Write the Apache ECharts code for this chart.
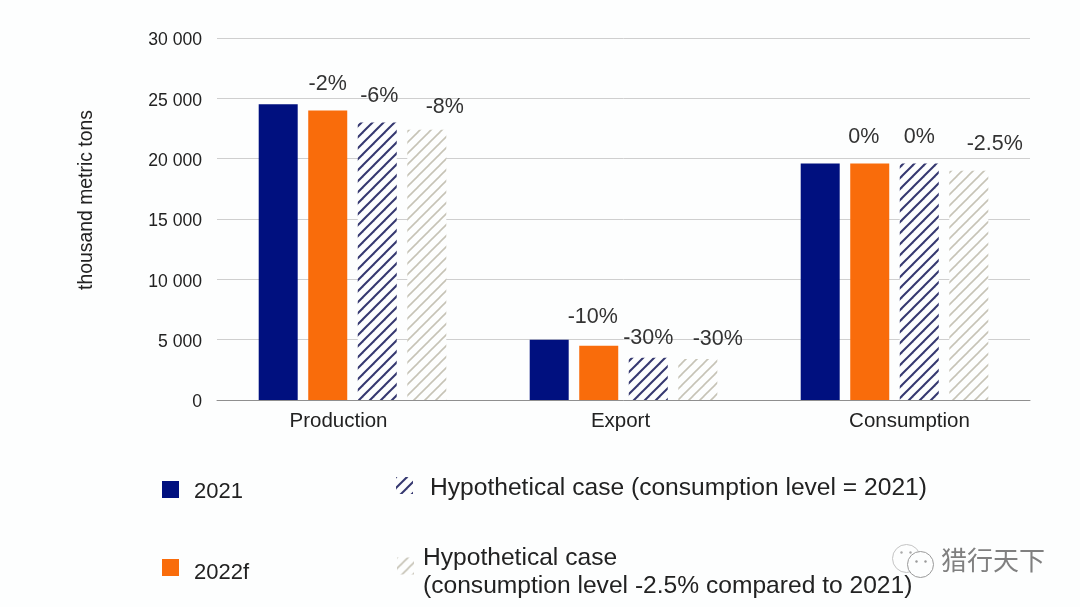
<!DOCTYPE html>
<html>
<head>
<meta charset="utf-8">
<title>Production, export and consumption</title>
<style>
	html, body { margin: 0; padding: 0; background: #fdfefe; }
	#chart { width: 1080px; height: 607px; }
</style>
<script src="https://cdn.jsdelivr.net/npm/echarts@6/dist/echarts.min.js"></script>
</head>
<body>
<div id="chart"></div>
<script>
const categories = ["Production", "Export", "Consumption"];
const seriesNames = [
	"2021",
	"2022f",
	"Hypothetical case (consumption level = 2021)",
	"Hypothetical case\n(consumption level -2.5% compared to 2021)",
];
const values2021 = [24500, 5000, 19600];
const values2022 = [24000, 4500, 19600];
const valuesHypo = [23000, 3500, 19600];
const valuesHypoLow = [22400, 3400, 19000];
const labels2022 = ["-2%", "-10%", "0%"];
const labelsHypo = ["-6%", "-30%", "0%"];
const labelsHypoLow = ["-8%", "-30%", "-2.5%"];

const FONT = '"Liberation Sans", Arial, sans-serif';
const TEXT = "#222";

// diagonal hatch tile, white behind so the grid lines don't show through
function hatch(color, width) {
	const size = 11;
	const c = document.createElement("canvas");
	c.width = size;
	c.height = size;
	const ctx = c.getContext("2d");
	ctx.fillStyle = "#fdfefe";
	ctx.fillRect(0, 0, size, size);
	ctx.strokeStyle = color;
	ctx.lineWidth = width;
	for (let i = -size; i <= size; i += size) {
		ctx.beginPath();
		ctx.moveTo(i - 1, size + 1);
		ctx.lineTo(i + size + 1, -1);
		ctx.stroke();
	}
	return { image: c, repeat: "repeat" };
}

const navyHatch = hatch("#34376f", 2);
const tanHatch = hatch("#c6c3b6", 1.6);

function barLabel(text, offset) {
	return {
		show: true,
		position: "top",
		formatter: text,
		offset: offset,
		fontFamily: FONT,
		fontSize: 21.5,
		color: "#333",
	};
}

function makeData(values, labels, offsets) {
	return values.map((value, i) => ({
		value: value,
		label: barLabel(labels[i], offsets[i]),
	}));
}

// rich padding moves the text relative to its icon, the picture has them uneven
function legendAt(name, left, top, fontSize, gap, drop) {
	const lineStyle = {
		fontFamily: FONT,
		fontSize: fontSize,
		color: TEXT,
		lineHeight: 28,
	};
	return {
		data: [{ name: name, icon: "rect" }],
		left: left,
		top: top,
		padding: 0,
		itemWidth: 17,
		itemHeight: 17,
		itemGap: 0,
		selectedMode: false,
		formatter: (n) => n.split("\n").map((line) => `{t|${line}}`).join("\n"),
		textStyle: {
			padding: [0, 0, 0, gap],
			rich: {
				t: { ...lineStyle, padding: [drop, 0, 0, 0] },
			},
		},
	};
}

const chart = echarts.init(document.getElementById("chart"));
chart.setOption({
	animation: false,
	backgroundColor: "#fdfefe",
	grid: { left: 217, right: 50, top: 38, bottom: 207 },
	legend: [
		legendAt(seriesNames[0], 162, 476, 22, 10, 5),
		legendAt(seriesNames[1], 162, 551, 22, 10, 11),
		legendAt(seriesNames[2], 396, 470, 24.6, 12, 6),
		legendAt(seriesNames[3], 397, 533, 24.6, 4, 13),
	],
	xAxis: {
		type: "category",
		// labels in the picture sit off the band centres
		data: [
			{ value: categories[0], textStyle: { padding: [0, 28, 0, 0] } },
			{ value: categories[1], textStyle: { padding: [0, 6, 0, 0] } },
			{ value: categories[2], textStyle: { padding: [0, 0, 0, 30] } },
		],
		axisTick: { show: false },
		axisLine: { lineStyle: { color: "#8f8f8f", width: 1 } },
		axisLabel: { fontFamily: FONT, fontSize: 20.5, color: TEXT, margin: 11 },
	},
	yAxis: {
		type: "value",
		min: 0,
		max: 30000,
		interval: 5000,
		name: "thousand metric tons",
		nameLocation: "middle",
		nameGap: 121,
		nameTextStyle: {
			fontFamily: FONT,
			fontSize: 19.4,
			color: TEXT,
			padding: [0, 0, 0, 38],
		},
		axisLine: { show: false },
		axisTick: { show: false },
		splitLine: { lineStyle: { color: "#cfcfcf", width: 1 } },
		axisLabel: {
			margin: 15,
			formatter: (v) => `{t|${String(v).replace(/(\d)(?=\d{3}$)/, "$1 ")}}`,
			rich: {
				t: {
					fontFamily: FONT,
					fontSize: 17.6,
					color: TEXT,
					padding: [5, 0, 0, 0],
				},
			},
		},
	},
	series: [
		{
			name: seriesNames[0],
			type: "bar",
			barWidth: 39,
			barGap: "27%",
			itemStyle: { color: "#00107f" },
			data: values2021,
		},
		{
			name: seriesNames[1],
			type: "bar",
			barWidth: 39,
			barGap: "27%",
			itemStyle: { color: "#f96c0b" },
			data: makeData(values2022, labels2022, [[0, -10], [-6, -13], [-6, -10]]),
		},
		{
			name: seriesNames[2],
			type: "bar",
			barWidth: 39,
			barGap: "27%",
			itemStyle: { color: navyHatch },
			data: makeData(valuesHypo, labelsHypo, [[2, -10], [0, -4], [0, -10]]),
		},
		{
			name: seriesNames[3],
			type: "bar",
			barWidth: 39,
			barGap: "27%",
			itemStyle: { color: tanHatch },
			data: makeData(valuesHypoLow, labelsHypoLow, [[18, -7], [20, -4], [26, -11]]),
		},
	],
	graphic: [
		// watermark
		{
			type: "group",
			left: 892,
			top: 544,
			silent: true,
			children: [
				{
					type: "circle",
					shape: { cx: 14, cy: 14, r: 14 },
					style: { fill: "#fdfefe", stroke: "#c4c4c4", lineWidth: 1 },
				},
				{
					type: "circle",
					shape: { cx: 28, cy: 20, r: 13 },
					style: { fill: "#fdfefe", stroke: "#9a9a9a", lineWidth: 1 },
				},
				{ type: "circle", shape: { cx: 9, cy: 8, r: 1.2 }, style: { fill: "#aaa" } },
				{ type: "circle", shape: { cx: 18, cy: 8, r: 1.2 }, style: { fill: "#aaa" } },
				{ type: "circle", shape: { cx: 24, cy: 17, r: 1.2 }, style: { fill: "#999" } },
				{ type: "circle", shape: { cx: 33, cy: 17, r: 1.2 }, style: { fill: "#999" } },
			],
		},
		{
			type: "text",
			left: 941,
			top: 547,
			silent: true,
			style: {
				text: "猎行天下",
				font: '26px "Noto Sans CJK SC"',
				fill: "#808080",
			},
		},
	],
});
</script>
</body>
</html>
